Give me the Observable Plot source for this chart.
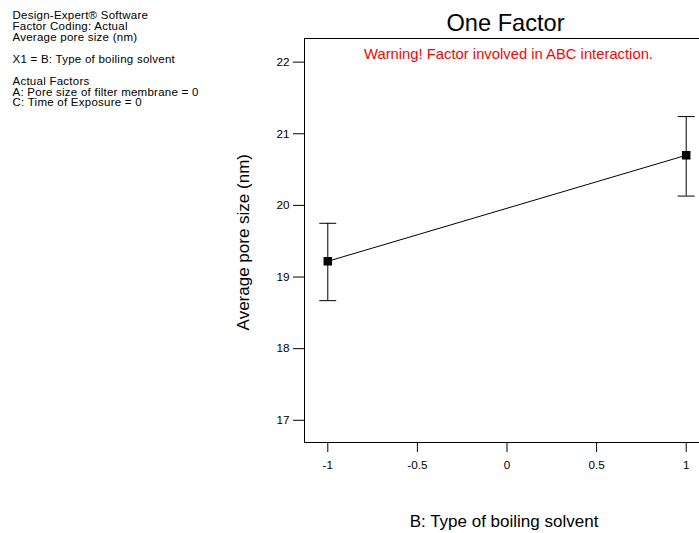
<!DOCTYPE html>
<html>
<head>
<meta charset="utf-8">
<script src="https://cdn.jsdelivr.net/npm/d3@7"></script>
<script src="https://cdn.jsdelivr.net/npm/@observablehq/plot@0.6"></script>
<style>
  html, body { margin: 0; padding: 0; background: #fff; overflow: hidden; }
  #chart svg { overflow: hidden; }
</style>
</head>
<body>
<div id="chart"></div>
<script>
// ---- data ----
const xLevels   = [-1, 1];
const meanPore  = [19.22, 20.70];
const lowerPore = [18.67, 20.13];
const upperPore = [19.75, 21.24];
const xTicks = [-1, -0.5, 0, 0.5, 1];
const yTicks = [17, 18, 19, 20, 21, 22];
const titleText = "One Factor";
const warningText = "Warning! Factor involved in ABC interaction.";
const xLabel = "B: Type of boiling solvent";
const yLabel = "Average pore size (nm)";
const infoLines = [
  "Design-Expert® Software",
  "Factor Coding: Actual",
  "Average pore size (nm)",
  "",
  "X1 = B: Type of boiling solvent",
  "",
  "Actual Factors",
  "A: Pore size of filter membrane = 0",
  "C: Time of Exposure = 0"
];

const rows = xLevels.map((x, i) => ({x, mean: meanPore[i], lo: lowerPore[i], hi: upperPore[i]}));

const capSymbol = {
  draw(context) {
    context.moveTo(-8.5, 0);
    context.lineTo(8.5, 0);
  }
};

const font = "'Liberation Sans', Arial, Helvetica, sans-serif";

const chart = Plot.plot({
  width: 699,
  height: 533,
  marginLeft: 304,
  marginRight: -10,
  marginTop: 38,
  marginBottom: 91,
  style: {fontFamily: font, background: "#fff", color: "#000", overflow: "hidden"},
  x: {domain: [-1.13, 1.13]},
  y: {domain: [16.69, 22.33]},
  marks: [
    Plot.frame({stroke: "#000", strokeWidth: 1}),
    Plot.axisY({ticks: yTicks, tickSize: 11, tickPadding: 4, fontSize: 11.7, label: null, tickFormat: d => String(d)}),
    Plot.axisX({ticks: xTicks, tickSize: 10, tickPadding: 8, fontSize: 11.7, label: null, tickFormat: d => String(d)}),
    Plot.ruleX(rows, {x: "x", y1: "lo", y2: "hi", stroke: "#000", strokeWidth: 1}),
    Plot.dot(rows, {x: "x", y: "lo", symbol: capSymbol, fill: "none", stroke: "#000", strokeWidth: 1}),
    Plot.dot(rows, {x: "x", y: "hi", symbol: capSymbol, fill: "none", stroke: "#000", strokeWidth: 1}),
    Plot.line(rows, {x: "x", y: "mean", stroke: "#000", strokeWidth: 1}),
    Plot.dot(rows, {x: "x", y: "mean", symbol: "square", r: 4.8, fill: "#000", stroke: "none"}),
    Plot.text([titleText], {frameAnchor: "top", text: d => d, fontSize: 23.6, dx: -1.5, dy: -15.5, lineAnchor: "middle", fill: "#000"}),
    Plot.text([warningText], {frameAnchor: "top", text: d => d, fontSize: 14.8, dx: 1.5, dy: 15.6, lineAnchor: "middle", fill: "#ff0000"}),
    Plot.text([xLabel], {frameAnchor: "bottom", text: d => d, fontSize: 17, dx: -3, dy: 79.3, lineAnchor: "middle", fill: "#000"}),
    Plot.text([yLabel], {frameAnchor: "left", text: d => d, fontSize: 17, rotate: -90, dx: -61.4, dy: 1.7, lineAnchor: "middle", textAnchor: "middle", fill: "#000"}),
    Plot.text([infoLines.join("\n")], {frameAnchor: "top-left", text: d => d, fontSize: 11.5, lineHeight: 0.95, textAnchor: "start", lineAnchor: "top", dx: -292, dy: -27.2, fill: "#000"})
  ]
});

// slightly wider letter spacing for the info block, as in the reference rendering
const textGroups = chart.querySelectorAll("g[aria-label='text']");
if (textGroups.length) textGroups[textGroups.length - 1].setAttribute("letter-spacing", "0.25");

document.getElementById("chart").appendChild(chart);
</script>
</body>
</html>
